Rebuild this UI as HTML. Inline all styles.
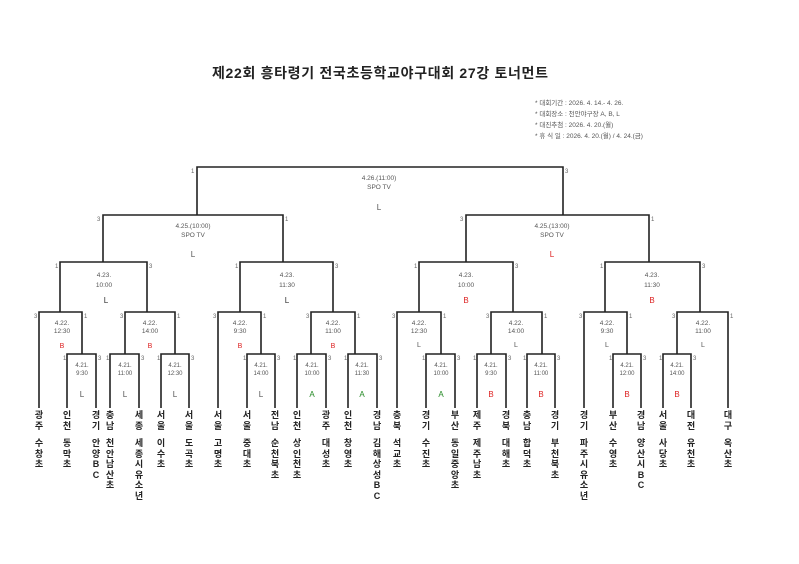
<!DOCTYPE html>
<html><head><meta charset="utf-8"><style>
html,body{margin:0;padding:0;background:#fff;}
#w{position:relative;width:799px;height:564px;overflow:hidden;font-family:"Liberation Sans","Noto Sans CJK KR",sans-serif;}
.t{position:absolute;width:12px;margin-left:-6px;font-size:9px;line-height:10.5px;text-align:center;word-break:break-all;color:#222;font-weight:bold;font-family:"Liberation Sans","Noto Sans CJK KR",sans-serif;}
.r{top:410px;}
.s{top:438px;}
</style></head><body><div id="w">
<svg width="799" height="564" style="position:absolute;left:0;top:0" font-family="Liberation Sans, Noto Sans CJK KR, sans-serif">
<text x="380" y="78" font-size="14" font-weight="bold" text-anchor="middle" fill="#222" textLength="336">제22회 흥타령기 전국초등학교야구대회 27강 토너먼트</text>
<g font-size="6.5" fill="#555">
<text x="535" y="105">* 대회기간 : 2026. 4. 14.- 4. 26.</text>
<text x="535" y="116">* 대회장소 : 천안야구장 A, B, L</text>
<text x="535" y="127">* 대진추첨 : 2026. 4. 20.(월)</text>
<text x="535" y="138">* 휴 식 일 : 2026. 4. 20.(월) / 4. 24.(금)</text>
</g>
<g fill="none" stroke="#222" stroke-width="1.6">
<path d="M197,215V167H563V215"/>
<path d="M103,262V215H283V262"/><path d="M466,262V215H649V262"/>
<path d="M60,312V262H147V312"/><path d="M240,312V262H333V312"/><path d="M419,312V262H513V312"/><path d="M605,312V262H700V312"/>
<path d="M39,408V312H82V354"/><path d="M125,354V312H175V354"/><path d="M218,408V312H261V354"/><path d="M311,354V312H355V354"/>
<path d="M397,408V312H441V354"/><path d="M491,354V312H542V354"/><path d="M584,408V312H627V354"/><path d="M677,354V312H728V408"/>
<path d="M67,408V354H96V408"/><path d="M110,408V354H139V408"/><path d="M161,408V354H189V408"/><path d="M247,408V354H275V408"/><path d="M297,408V354H326V408"/><path d="M348,408V354H377V408"/>
<path d="M426,408V354H455V408"/><path d="M477,408V354H506V408"/><path d="M527,408V354H555V408"/><path d="M613,408V354H641V408"/><path d="M663,408V354H691V408"/>
</g>
<g font-size="6" fill="#666">
<text x="191" y="173">1</text><text x="565" y="173">3</text>
<text x="97" y="221">3</text><text x="285" y="221">1</text><text x="460" y="221">3</text><text x="651" y="221">1</text>
<text x="55" y="268">1</text><text x="149" y="268">3</text><text x="235" y="268">1</text><text x="335" y="268">3</text><text x="414" y="268">1</text><text x="515" y="268">3</text><text x="600" y="268">1</text><text x="702" y="268">3</text>
<text x="34" y="318">3</text><text x="84" y="318">1</text><text x="120" y="318">3</text><text x="177" y="318">1</text><text x="213" y="318">3</text><text x="263" y="318">1</text><text x="306" y="318">3</text><text x="357" y="318">1</text>
<text x="392" y="318">3</text><text x="443" y="318">1</text><text x="486" y="318">3</text><text x="544" y="318">1</text><text x="579" y="318">3</text><text x="629" y="318">1</text><text x="672" y="318">3</text><text x="730" y="318">1</text>
<text x="63" y="360">1</text><text x="98" y="360">3</text><text x="106" y="360">1</text><text x="141" y="360">3</text><text x="157" y="360">1</text><text x="191" y="360">3</text><text x="243" y="360">1</text><text x="277" y="360">3</text><text x="293" y="360">1</text><text x="328" y="360">3</text><text x="344" y="360">1</text><text x="379" y="360">3</text>
<text x="422" y="360">1</text><text x="457" y="360">3</text><text x="473" y="360">1</text><text x="508" y="360">3</text><text x="523" y="360">1</text><text x="557" y="360">3</text><text x="609" y="360">1</text><text x="643" y="360">3</text><text x="659" y="360">1</text><text x="693" y="360">3</text>
</g>
<g font-size="6.5" fill="#555" text-anchor="middle">
<text x="379" y="180">4.26.(11:00)</text><text x="379" y="189">SPO TV</text><text x="379" y="210" font-size="8">L</text>
<text x="193" y="228">4.25.(10:00)</text><text x="193" y="237">SPO TV</text><text x="193" y="257" font-size="8">L</text>
<text x="552" y="228">4.25.(13:00)</text><text x="552" y="237">SPO TV</text><text x="552" y="257" font-size="8" fill="#d22">L</text>
<text x="104" y="277">4.23.</text><text x="104" y="287">10:00</text><text x="106" y="303" font-size="8" fill="#333">L</text>
<text x="287" y="277">4.23.</text><text x="287" y="287">11:30</text><text x="287" y="303" font-size="8" fill="#333">L</text>
<text x="466" y="277">4.23.</text><text x="466" y="287">10:00</text><text x="466" y="303" font-size="8" fill="#d22">B</text>
<text x="652" y="277">4.23.</text><text x="652" y="287">11:30</text><text x="652" y="303" font-size="8" fill="#d22">B</text>
<text x="62" y="325">4.22.</text><text x="62" y="333">12:30</text><text x="62" y="348" font-size="7" fill="#d22">B</text>
<text x="150" y="325">4.22.</text><text x="150" y="333">14:00</text><text x="150" y="348" font-size="7" fill="#d22">B</text>
<text x="240" y="325">4.22.</text><text x="240" y="333">9:30</text><text x="240" y="348" font-size="7" fill="#d22">B</text>
<text x="333" y="325">4.22.</text><text x="333" y="333">11:00</text><text x="333" y="348" font-size="7" fill="#d22">B</text>
<text x="419" y="325">4.22.</text><text x="419" y="333">12:30</text><text x="419" y="347" font-size="7">L</text>
<text x="516" y="325">4.22.</text><text x="516" y="333">14:00</text><text x="516" y="347" font-size="7">L</text>
<text x="607" y="325">4.22.</text><text x="607" y="333">9:30</text><text x="607" y="347" font-size="7">L</text>
<text x="703" y="325">4.22.</text><text x="703" y="333">11:00</text><text x="703" y="347" font-size="7">L</text>
</g>
<g font-size="6" fill="#555" text-anchor="middle">
<text x="82" y="367">4.21.</text><text x="82" y="375">9:30</text><text x="82" y="397" font-size="8">L</text>
<text x="125" y="367">4.21.</text><text x="125" y="375">11:00</text><text x="125" y="397" font-size="8">L</text>
<text x="175" y="367">4.21.</text><text x="175" y="375">12:30</text><text x="175" y="397" font-size="8">L</text>
<text x="261" y="367">4.21.</text><text x="261" y="375">14:00</text><text x="261" y="397" font-size="8">L</text>
<text x="312" y="367">4.21.</text><text x="312" y="375">10:00</text><text x="312" y="397" font-size="8" fill="#282">A</text>
<text x="362" y="367">4.21.</text><text x="362" y="375">11:30</text><text x="362" y="397" font-size="8" fill="#282">A</text>
<text x="441" y="367">4.21.</text><text x="441" y="375">10:00</text><text x="441" y="397" font-size="8" fill="#282">A</text>
<text x="491" y="367">4.21.</text><text x="491" y="375">9:30</text><text x="491" y="397" font-size="8" fill="#d22">B</text>
<text x="541" y="367">4.21.</text><text x="541" y="375">11:00</text><text x="541" y="397" font-size="8" fill="#d22">B</text>
<text x="627" y="367">4.21.</text><text x="627" y="375">12:00</text><text x="627" y="397" font-size="8" fill="#d22">B</text>
<text x="677" y="367">4.21.</text><text x="677" y="375">14:00</text><text x="677" y="397" font-size="8" fill="#d22">B</text>
</g>
</svg>
<div class="t r" style="left:39px">광주</div><div class="t s" style="left:39px">수창초</div>
<div class="t r" style="left:67px">인천</div><div class="t s" style="left:67px">동막초</div>
<div class="t r" style="left:96px">경기</div><div class="t s" style="left:96px">안양BC</div>
<div class="t r" style="left:110px">충남</div><div class="t s" style="left:110px">천안남산초</div>
<div class="t r" style="left:139px">세종</div><div class="t s" style="left:139px">세종시유소년</div>
<div class="t r" style="left:161px">서울</div><div class="t s" style="left:161px">이수초</div>
<div class="t r" style="left:189px">서울</div><div class="t s" style="left:189px">도곡초</div>
<div class="t r" style="left:218px">서울</div><div class="t s" style="left:218px">고명초</div>
<div class="t r" style="left:247px">서울</div><div class="t s" style="left:247px">중대초</div>
<div class="t r" style="left:275px">전남</div><div class="t s" style="left:275px">순천북초</div>
<div class="t r" style="left:297px">인천</div><div class="t s" style="left:297px">상인천초</div>
<div class="t r" style="left:326px">광주</div><div class="t s" style="left:326px">대성초</div>
<div class="t r" style="left:348px">인천</div><div class="t s" style="left:348px">창영초</div>
<div class="t r" style="left:377px">경남</div><div class="t s" style="left:377px">김해상성BC</div>
<div class="t r" style="left:397px">충북</div><div class="t s" style="left:397px">석교초</div>
<div class="t r" style="left:426px">경기</div><div class="t s" style="left:426px">수진초</div>
<div class="t r" style="left:455px">부산</div><div class="t s" style="left:455px">동일중앙초</div>
<div class="t r" style="left:477px">제주</div><div class="t s" style="left:477px">제주남초</div>
<div class="t r" style="left:506px">경북</div><div class="t s" style="left:506px">대해초</div>
<div class="t r" style="left:527px">충남</div><div class="t s" style="left:527px">합덕초</div>
<div class="t r" style="left:555px">경기</div><div class="t s" style="left:555px">부천북초</div>
<div class="t r" style="left:584px">경기</div><div class="t s" style="left:584px">파주시유소년</div>
<div class="t r" style="left:613px">부산</div><div class="t s" style="left:613px">수영초</div>
<div class="t r" style="left:641px">경남</div><div class="t s" style="left:641px">양산시BC</div>
<div class="t r" style="left:663px">서울</div><div class="t s" style="left:663px">사당초</div>
<div class="t r" style="left:691px">대전</div><div class="t s" style="left:691px">유천초</div>
<div class="t r" style="left:728px">대구</div><div class="t s" style="left:728px">옥산초</div>
</div></body></html>
